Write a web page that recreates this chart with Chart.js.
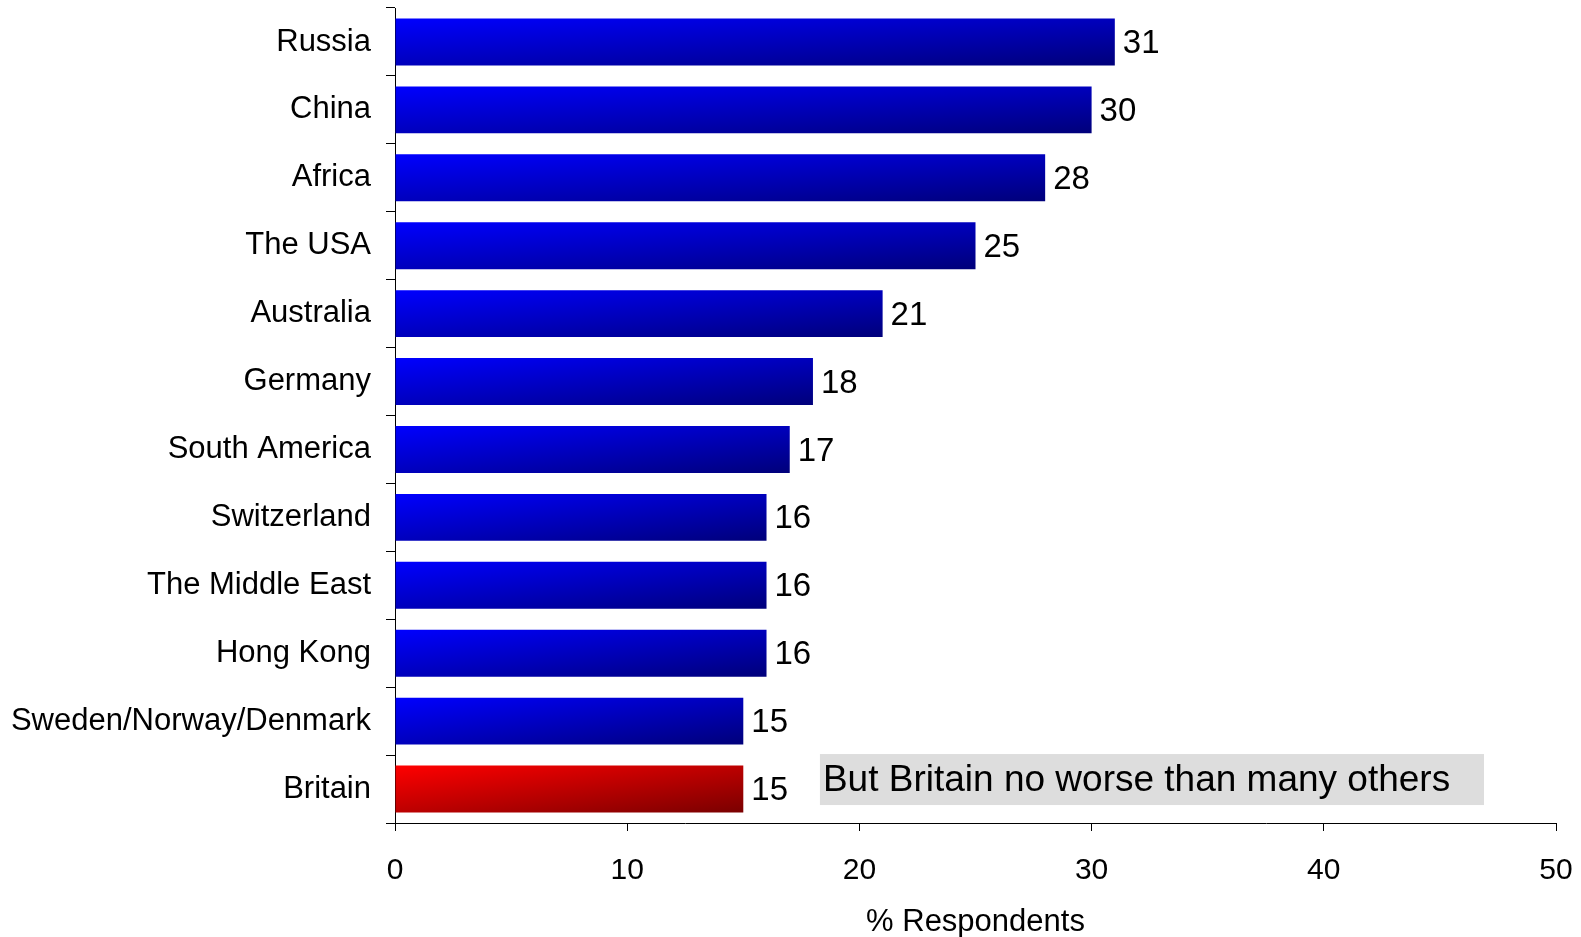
<!DOCTYPE html>
<html>
<head>
<meta charset="utf-8">
<script src="https://cdn.jsdelivr.net/npm/chart.js@4"></script>
<style>
  body { margin: 0; background: #fff; }
  canvas { display: block; }
</style>
</head>
<body>
<canvas id="chart" width="1581" height="937"></canvas>
<script>
// categories and values, top to bottom
const countries = ["Russia", "China", "Africa", "The USA", "Australia", "Germany", "South America",
                   "Switzerland", "The Middle East", "Hong Kong", "Sweden/Norway/Denmark", "Britain"];
const respondents = [31, 30, 28, 25, 21, 18, 17, 16, 16, 16, 15, 15];
const xTicks = [0, 10, 20, 30, 40, 50];
const highlight = "Britain";
const note = "But Britain no worse than many others";

const FONT = "'Liberation Sans', Arial, sans-serif";

// diagonal gradient like the office "linear diagonal" fill
var barFill = function (ctx) {
    const chart = ctx.chart;
    const xs = chart.scales.x, ys = chart.scales.y;
    if (!xs || !ys || !chart.chartArea) return "#0000ff";
    const i = ctx.dataIndex;
    const x0 = xs.getPixelForValue(0);
    const x1 = xs.getPixelForValue(respondents[i]);
    const band = ys.height / countries.length;
    const h = band * 0.69;
    const top = ys.getPixelForValue(i) - h / 2;
    const w = Math.max(1, x1 - x0);
    const k = 2 * w * h / (w * w + h * h);
    const g = chart.ctx.createLinearGradient(x0, top, x0 + h * k, top + w * k);
    if (countries[i] === highlight) {
        g.addColorStop(0, "#ff0000");
        g.addColorStop(1, "#7a0000");
    } else {
        g.addColorStop(0, "#0000ff");
        g.addColorStop(1, "#00007a");
    }
    return g;
};

// value numbers at the end of each bar
const valueLabels = {
    id: "valueLabels",
    afterDatasetsDraw(chart) {
        const c = chart.ctx;
        const meta = chart.getDatasetMeta(0);
        c.save();
        c.font = "33px " + FONT;
        c.fillStyle = "#000";
        c.textAlign = "left";
        c.textBaseline = "middle";
        meta.data.forEach(function (bar, i) {
            c.fillText(String(respondents[i]), bar.x + 8, bar.y + 2);
        });
        c.restore();
    }
};

// grey note box near the bottom right
const noteBox = {
    id: "noteBox",
    afterDraw(chart) {
        const c = chart.ctx;
        const xs = chart.scales.x, ys = chart.scales.y;
        const left = xs.getPixelForValue(18.3);
        const right = xs.getPixelForValue(46.9);
        const cy = ys.getPixelForValue(countries.length - 1) - 10;
        c.save();
        c.fillStyle = "#dddddd";
        c.fillRect(left, cy - 25, right - left, 51);
        c.font = "37px " + FONT;
        c.fillStyle = "#000";
        c.textBaseline = "middle";
        c.fillText(note, left + 3, cy + 2);
        c.restore();
    }
};

new Chart("chart", {
    type: "bar",
    data: {
        labels: countries,
        datasets: [{
            data: respondents,
            backgroundColor: barFill,
            borderWidth: 0,
            categoryPercentage: 0.69,
            barPercentage: 1
        }]
    },
    options: {
        indexAxis: "y",
        responsive: false,
        animation: false,
        layout: { padding: { top: 8, right: 25, left: 0, bottom: 0 } },
        plugins: {
            legend: { display: false },
            tooltip: { enabled: false }
        },
        scales: {
            x: {
                min: 0,
                max: 50,
                afterBuildTicks: function (scale) {
                    scale.ticks = xTicks.map(function (v) { return { value: v }; });
                },
                afterFit: function (scale) {
                    scale.height = 114;
                    scale.paddingLeft = 0;
                    scale.paddingRight = 0;
                },
                grid: { drawOnChartArea: false, drawTicks: true, tickLength: 8, color: "#000" },
                border: { display: true, color: "#000", width: 1 },
                ticks: { color: "#000", font: { family: FONT, size: 30 }, padding: 22, maxRotation: 0 },
                title: {
                    display: true,
                    text: "% Respondents",
                    color: "#000",
                    font: { family: FONT, size: 31 },
                    padding: { top: 6, bottom: -4 }
                }
            },
            y: {
                afterFit: function (scale) {
                    scale.width = 395;
                    scale.paddingTop = 0;
                    scale.paddingBottom = 0;
                },
                grid: { offset: true, drawOnChartArea: false, drawTicks: true, tickLength: 9, color: "#000" },
                border: { display: true, color: "#000", width: 1 },
                ticks: { color: "#000", font: { family: FONT, size: 31 }, padding: 15, autoSkip: false }
            }
        }
    },
    plugins: [valueLabels, noteBox]
});
</script>
</body>
</html>
